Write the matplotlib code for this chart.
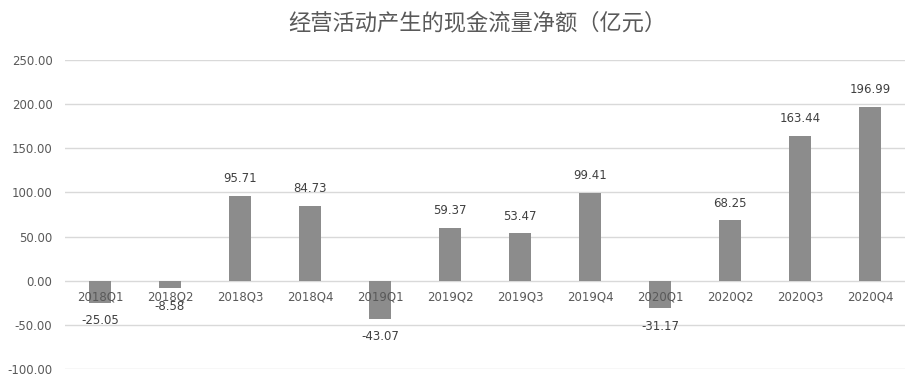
import matplotlib
matplotlib.use("Agg")
import matplotlib.pyplot as plt

plt.rcParams['font.family'] = ['DejaVu Sans', 'Noto Sans CJK SC']

quarters = ["2018Q1", "2018Q2", "2018Q3", "2018Q4",
            "2019Q1", "2019Q2", "2019Q3", "2019Q4",
            "2020Q1", "2020Q2", "2020Q3", "2020Q4"]
values = [-25.05, -8.58, 95.71, 84.73,
          -43.07, 59.37, 53.47, 99.41,
          -31.17, 68.25, 163.44, 196.99]
yticks = [-100, -50, 0, 50, 100, 150, 200, 250]

fig = plt.figure(figsize=(9.19, 3.84), dpi=100)
ax = fig.add_axes([0.0707, 0.039, 0.914, 0.805])

x = list(range(len(quarters)))
ax.bar(x, values, width=0.31, color="#8c8c8c", zorder=3)

ax.set_xlim(-0.5, len(quarters) - 0.5)
ax.set_ylim(-100, 250)
ax.set_yticks(yticks)
ax.set_yticklabels(["%.2f" % t for t in yticks], fontsize=8.5, color="#595959")
ax.tick_params(axis="y", length=0, pad=9)
ax.set_xticks([])
ax.grid(axis="y", color="#d9d9d9", linewidth=1, zorder=0)
for s in ax.spines.values():
    s.set_visible(False)

# category labels sit just under the zero line
for i, q in enumerate(quarters):
    ax.annotate(q, (i, 0), xytext=(0, -12), textcoords="offset points",
                ha="center", va="center", fontsize=8.5, color="#595959", zorder=4)

# value labels
for i, v in enumerate(values):
    off = 12.5 if v >= 0 else -13
    ax.annotate("%.2f" % v, (i, v), xytext=(0, off), textcoords="offset points",
                ha="center", va="center", fontsize=8.5, color="#404040", zorder=5)

fig.text(0.52, 0.94, "经营活动产生的现金流量净额（亿元）", ha="center", va="center",
         fontsize=16, color="#595959", family=['Noto Sans CJK SC', 'DejaVu Sans'])

fig.savefig("out.png", dpi=100, facecolor="white")
